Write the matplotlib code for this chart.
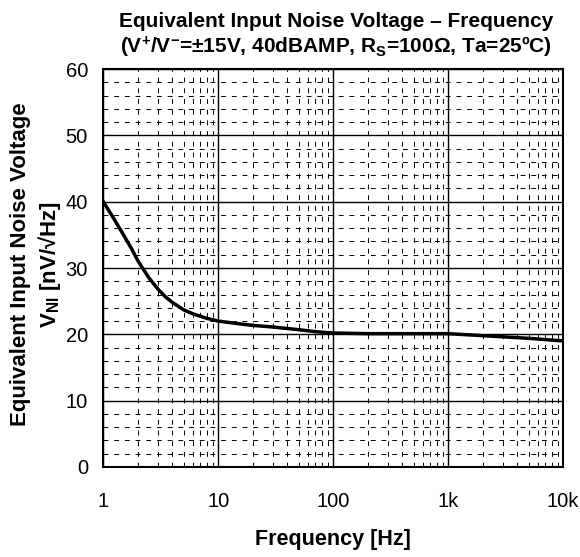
import numpy as np
import matplotlib
matplotlib.use("Agg")
import matplotlib.pyplot as plt
from matplotlib.ticker import FixedLocator, FixedFormatter, MultipleLocator

plt.rcParams['font.family'] = ['Liberation Sans', 'DejaVu Sans']
plt.rcParams['mathtext.fontset'] = 'custom'
plt.rcParams['mathtext.rm'] = 'Liberation Sans:bold'
plt.rcParams['mathtext.bf'] = 'Liberation Sans:bold'
plt.rcParams['mathtext.default'] = 'bf'

# curve
freq = [1, 1.25, 1.5, 1.75, 2, 2.5, 3, 3.5, 4, 5, 6, 8, 10, 15, 20, 30, 50, 70,
        100, 200, 500, 1000, 2000, 5000, 10000]
vni = [40, 37.3, 35.0, 33.0, 31.1, 28.5, 26.8, 25.6, 24.8, 23.7, 23.1, 22.4, 22.0,
       21.6, 21.35, 21.1, 20.7, 20.4, 20.2, 20.1, 20.1, 20.1, 19.8, 19.4, 19.0]

xticks = [1, 10, 100, 1000, 10000]
xlabels = ["1", "10", "100", "1k", "10k"]

fig = plt.figure(figsize=(5.8, 5.57), dpi=100)
ax = fig.add_axes([0.178, 0.1616, 0.793, 0.7145])

ax.plot(freq, vni, color="black", linewidth=2.5, zorder=3)

ax.set_xscale("log")
ax.set_xlim(1, 10000)
ax.set_ylim(0, 60)

ax.xaxis.set_major_locator(FixedLocator(xticks))
ax.xaxis.set_major_formatter(FixedFormatter(xlabels))
minors = [d * m for d in [1, 10, 100, 1000] for m in range(2, 10)]
ax.xaxis.set_minor_locator(FixedLocator(minors))
ax.xaxis.set_minor_formatter(FixedFormatter([""] * len(minors)))
ax.yaxis.set_major_locator(MultipleLocator(10))
ax.yaxis.set_minor_locator(MultipleLocator(2))

ax.grid(which="major", color="black", linewidth=1.0)
ax.grid(which="minor", color="black", linewidth=0.7, linestyle=(0, (5, 6)))
ax.tick_params(which="both", length=0, labelsize=14.5)
ax.tick_params(axis="x", pad=18)
ax.tick_params(axis="y", pad=11)
for s in ax.spines.values():
    s.set_linewidth(1.5)

ax.set_xlabel("Frequency [Hz]", fontsize=15.5, fontweight="bold", va="center")
ax.xaxis.set_label_coords(0.5, -0.183)
ax.set_ylabel("Equivalent Input Noise Voltage\nV$_{NI}$ [nV/√Hz]", fontsize=16,
              fontweight="bold", linespacing=1.25, va="center")
ax.yaxis.set_label_coords(-0.145, 0.51)

fig.text(0.579, 0.961, "Equivalent Input Noise Voltage – Frequency",
         ha="center", va="center", fontsize=15, fontweight="bold")
fig.text(0.579, 0.915, "(V$^{+}$/V$^{-}$=±15V, 40dBAMP, R$_{S}$=100Ω, Ta=25ºC)",
         ha="center", va="center", fontsize=15, fontweight="bold")

fig.savefig("out.png", dpi=100)
